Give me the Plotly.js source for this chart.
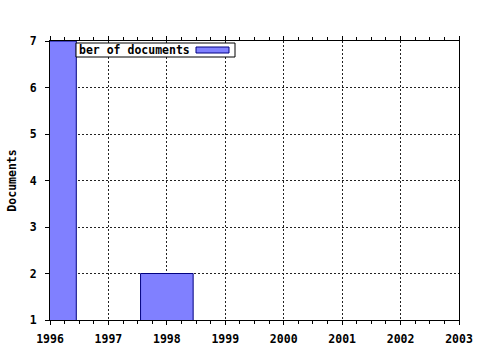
<!DOCTYPE html>
<html><head><meta charset="utf-8">
<script src="https://cdn.plot.ly/plotly-3.0.1.min.js"></script>
<style>html,body{margin:0;padding:0;background:#fff}#chart{width:480px;height:350px}</style>
</head><body><div id="chart"></div>
<script>
const years = [1996, 1998];
const documents = [7, 2];
const xTickVals = [1996, 1997, 1998, 1999, 2000, 2001, 2002, 2003];
const yTickVals = [1, 2, 3, 4, 5, 6, 7];
const seriesName = "ber of documents";

const TF = {family: "DejaVu Sans Mono", size: 11.5, color: "#000", weight: "bold"};
const trace = {
  type: "bar", x: years, y: documents, width: 0.9,
  marker: {color: "#8080ff", line: {color: "#000080", width: 1}},
  showlegend: false, hoverinfo: "none"
};
const layout = {
  width: 480, height: 350,
  margin: {l: 50, r: 21, t: 41, b: 30},
  paper_bgcolor: "#fff", plot_bgcolor: "#fff",
  font: TF,
  xaxis: {range: [1996, 2003], tickvals: xTickVals, ticktext: xTickVals.map(String),
    showgrid: true, gridcolor: "#222", griddash: "2px,2px", gridwidth: 1,
    showline: true, linecolor: "#000", linewidth: 1, mirror: "allticks",
    ticks: "outside", ticklen: 4, tickcolor: "#000", ticklabelstandoff: 4,
    minor: {dtick: 0.25, tick0: 1996, ticks: "outside", ticklen: 3, tickcolor: "#000", showgrid: false},
    zeroline: false, tickfont: TF},
  yaxis: {range: [1, 7], tickvals: yTickVals, ticktext: yTickVals.map(String),
    showgrid: true, gridcolor: "#222", griddash: "2px,2px", gridwidth: 1,
    showline: true, linecolor: "#000", linewidth: 1, mirror: true,
    ticks: "outside", ticklen: 4, tickcolor: "#000", zeroline: false, ticklabelstandoff: 6,
    tickfont: TF,
    title: {text: "Documents", standoff: 10, font: TF}},
  shapes: [
    {type: "rect", xref: "paper", yref: "paper", layer: "above",
     x0: 26/409, x1: 185/409, y0: 1 - 16/279, y1: 1 - 2/279,
     fillcolor: "#fff", line: {color: "#000", width: 1}},
    {type: "rect", xref: "paper", yref: "paper", layer: "above",
     x0: 146/409, x1: 179/409, y0: 1 - 12/279, y1: 1 - 6/279,
     fillcolor: "#8080ff", line: {color: "#000080", width: 1}}
  ],
  annotations: [
    {xref: "paper", yref: "paper", x: 26.5/409, y: 1 - 9/279, xanchor: "left", yanchor: "middle",
     text: "<b>" + seriesName + "</b>", showarrow: false,
     font: {family: "DejaVu Sans Mono", size: 11.5, color: "#000"}}
  ]
};
Plotly.newPlot("chart", [trace], layout, {staticPlot: true, displayModeBar: false});
</script></body></html>
